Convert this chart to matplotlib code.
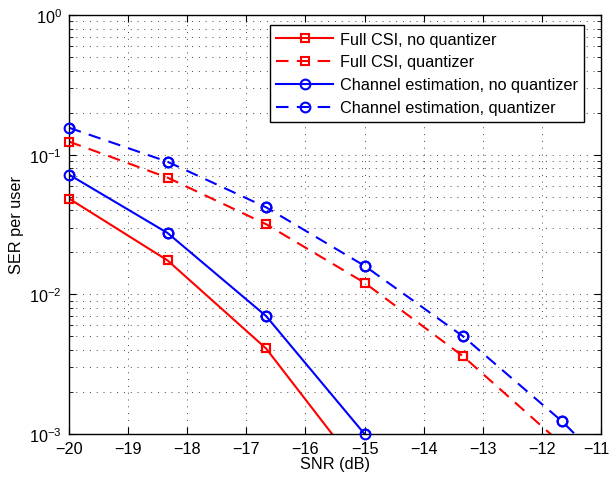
import numpy as np
import matplotlib
matplotlib.use('Agg')
import matplotlib.pyplot as plt
import matplotlib.transforms as mtransforms
from matplotlib.ticker import LogLocator, NullFormatter

plt.rcParams['font.family'] = ['Liberation Sans', 'DejaVu Sans']
plt.rcParams['mathtext.fontset'] = 'custom'
plt.rcParams['mathtext.rm'] = 'Liberation Sans'

# SNR points (dB)
snr = [-20, -18.333, -16.667, -15, -13.333, -11.667, -10]

# SER per user for each scheme
ser_full_noq = [0.0485, 0.0175, 0.0041, 0.0005]
ser_full_q = [0.124, 0.0685, 0.0318, 0.0121, 0.0036, 0.00085]
ser_est_noq = [0.072, 0.0275, 0.0070, 0.0010]
ser_est_q = [0.156, 0.089, 0.0420, 0.0160, 0.0050, 0.00124, 0.00025]

labels = ['Full CSI, no quantizer', 'Full CSI, quantizer',
          'Channel estimation, no quantizer', 'Channel estimation, quantizer']

W, H = 609, 481
fig = plt.figure(figsize=(W / 100, H / 100), dpi=100, facecolor='white')
ax = fig.add_axes([69 / W, 1 - 435 / H, (601 - 69) / W, (435 - 16) / H])

ymin, ymax = 1e-3, 1e0
lw = 1.5
series = [
    (ser_full_noq, 'r', '-', 's', 5.5, labels[0]),
    (ser_full_q, 'r', '--', 's', 5.5, labels[1]),
    (ser_est_noq, 'b', '-', 'o', 7, labels[2]),
    (ser_est_q, 'b', '--', 'o', 7, labels[3]),
]
for vals, c, ls, mk, ms, lab in series:
    x = snr[:len(vals)]
    kw = dict(dashes=(6, 4)) if ls == '--' else {}
    ax.semilogy(x, vals, color=c, ls=ls, lw=lw, marker=mk, ms=ms, mfc='none',
                mew=1.5, label=lab, **kw)
    # markers drawn again unclipped, only for points inside the y range
    xin = [a for a, v in zip(x, vals) if ymin * 0.999 <= v <= ymax]
    yin = [v for v in vals if ymin * 0.999 <= v <= ymax]
    ax.plot(xin, yin, ls='none', marker=mk, ms=ms, mfc='none', mec=c,
            mew=1.5, clip_on=False, zorder=3)

ax.set_xlim(-20, -11)
ax.set_ylim(ymin, ymax)
ax.set_xticks(np.arange(-20, -10, 1))
ax.set_xticklabels(['\u2212' + str(abs(v)) for v in range(-20, -10)])
ax.yaxis.set_major_locator(LogLocator(base=10, numticks=10))
ax.yaxis.set_minor_locator(LogLocator(base=10, subs=np.arange(2, 10), numticks=20))
ax.yaxis.set_minor_formatter(NullFormatter())

gridstyle = dict(linestyle=(0, (1, 6)), color='#444444', lw=0.7)
ax.grid(True, which='major', **gridstyle)
ax.grid(True, which='minor', axis='y', **gridstyle)
ax.tick_params(which='both', direction='in', top=True, right=True, labelsize=11.7)
ax.tick_params(which='major', length=5, pad=5)
ax.tick_params(which='minor', length=3)
for s in ax.spines.values():
    s.set_linewidth(1.0)

# nudge last x label left so it stays inside the picture
lastlab = ax.get_xticklabels()[-1]
lastlab.set_transform(lastlab.get_transform() +
                      mtransforms.ScaledTranslation(-5 / 100, 0, fig.dpi_scale_trans))

ax.set_xlabel('SNR (dB)', fontsize=11.7, labelpad=0)
ax.set_ylabel('SER per user', fontsize=11.7, labelpad=4)

leg = ax.legend(loc='upper right', bbox_to_anchor=(584 / W, 1 - 26 / H),
                bbox_transform=fig.transFigure, borderaxespad=0,
                fontsize=11.7, fancybox=False, framealpha=1,
                edgecolor='black', handlelength=3.5, borderpad=0.4,
                labelspacing=0.49, handletextpad=0.4)
leg.get_frame().set_linewidth(1.0)

fig.savefig('out.png', dpi=100)
